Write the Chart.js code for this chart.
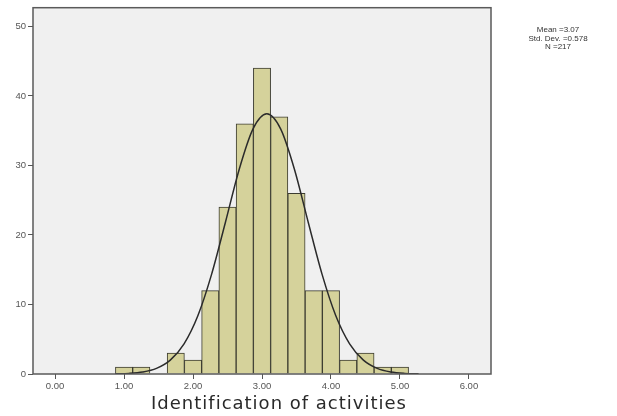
<!DOCTYPE html>
<html>
<head>
<meta charset="utf-8">
<script src="https://cdn.jsdelivr.net/npm/chart.js@4"></script>
<style>
  html, body { margin: 0; padding: 0; background: #fff; }
  #wrap { width: 617px; height: 416px; position: relative; }
</style>
</head>
<body>
<div id="wrap"><canvas id="histChart" width="617" height="416"></canvas></div>
<script>
// bin centres (bin width 0.25) and frequencies
const binCenters = [1.00, 1.25, 1.50, 1.75, 2.00, 2.25, 2.50, 2.75, 3.00, 3.25, 3.50, 3.75, 4.00, 4.25, 4.50, 4.75, 5.00];
const binCounts  = [1, 1, 0, 3, 2, 12, 24, 36, 44, 37, 26, 12, 12, 2, 3, 1, 1];

// normal curve, points
const curveX = [0.87, 1.07, 1.27, 1.47, 1.67, 1.87, 2.07, 2.27, 2.47, 2.67, 2.87, 3.07, 3.27, 3.47, 3.67, 3.87, 4.07, 4.27, 4.47, 4.67, 4.87, 5.07, 5.27];
const curveY = [0.03, 0.09, 0.29, 0.81, 1.99, 4.34, 8.38, 14.37, 21.84, 29.47, 35.27, 37.44, 35.27, 29.47, 21.84, 14.37, 8.38, 4.34, 1.99, 0.81, 0.29, 0.09, 0.03];

const xTicks = [0, 1, 2, 3, 4, 5, 6];
const yTicks = [0, 10, 20, 30, 40, 50];
const statsLines = ['Mean =3.07', 'Std. Dev. =0.578', 'N =217'];
const xTitle = 'Identification of activities';

const plotFrame = {
  id: 'plotFrame',
  beforeDraw(chart) {
    const { ctx, chartArea: a } = chart;
    ctx.save();
    ctx.fillStyle = '#f0f0f0';
    ctx.fillRect(a.left, a.top, a.right - a.left, a.bottom - a.top);
    ctx.restore();
  },
  afterDraw(chart) {
    const { ctx, chartArea: a } = chart;
    ctx.save();
    ctx.strokeStyle = '#5a5a5a';
    ctx.lineWidth = 1.5;
    ctx.strokeRect(a.left, a.top, a.right - a.left, a.bottom - a.top);
    // stats box text
    ctx.fillStyle = '#333';
    ctx.font = '8px "Liberation Sans", Arial, sans-serif';
    ctx.textAlign = 'center';
    ctx.textBaseline = 'middle';
    statsLines.forEach((t, i) => ctx.fillText(t, 558, 30 + i * 8.5));
    // x axis title, spaced out like the original
    ctx.fillStyle = '#2a2a2a';
    ctx.font = '18px "DejaVu Sans", sans-serif';
    ctx.letterSpacing = '1px';
    ctx.fillText(xTitle, 279, 404);
    ctx.restore();
  }
};

new Chart(document.getElementById('histChart'), {
  type: 'bar',
  data: {
    datasets: [
      {
        type: 'line',
        data: curveX.map((x, i) => ({ x: x, y: curveY[i] })),
        borderColor: '#2b2b2b',
        borderWidth: 1.5,
        pointRadius: 0,
        cubicInterpolationMode: 'monotone',
        fill: false,
        order: 0
      },
      {
        type: 'bar',
        data: binCenters.map((x, i) => ({ x: x, y: binCounts[i] })),
        backgroundColor: '#d5d29b',
        borderColor: '#3c3c30',
        borderWidth: 1,
        barPercentage: 1,
        categoryPercentage: 1,
        order: 1
      }
    ]
  },
  options: {
    responsive: false,
    animation: false,
    layout: { padding: { left: 0, top: 6, right: 126, bottom: 0 } },
    plugins: { legend: { display: false }, tooltip: { enabled: false } },
    scales: {
      x: {
        type: 'linear',
        min: -0.32,
        max: 6.32,
        offset: false,
        afterBuildTicks: (s) => { s.ticks = xTicks.map(v => ({ value: v })); },
        afterFit: (s) => { s.height = 42; },
        ticks: {
          callback: (v) => Number(v).toFixed(2),
          color: '#555',
          font: { size: 9.5, family: '"Liberation Sans", Arial, sans-serif' },
          padding: 2,
          maxRotation: 0
        },
        grid: { offset: false, drawOnChartArea: false, drawTicks: true, tickLength: 5, color: '#555' },
        border: { display: false }
      },
      y: {
        type: 'linear',
        min: 0,
        max: 52.7,
        afterBuildTicks: (s) => { s.ticks = yTicks.map(v => ({ value: v })); },
        afterFit: (s) => { s.width = 33; },
        ticks: {
          color: '#555',
          font: { size: 9.5, family: '"Liberation Sans", Arial, sans-serif' },
          padding: 2
        },
        grid: { drawOnChartArea: false, drawTicks: true, tickLength: 5, color: '#555' },
        border: { display: false }
      }
    }
  },
  plugins: [plotFrame]
});
</script>
</body>
</html>
